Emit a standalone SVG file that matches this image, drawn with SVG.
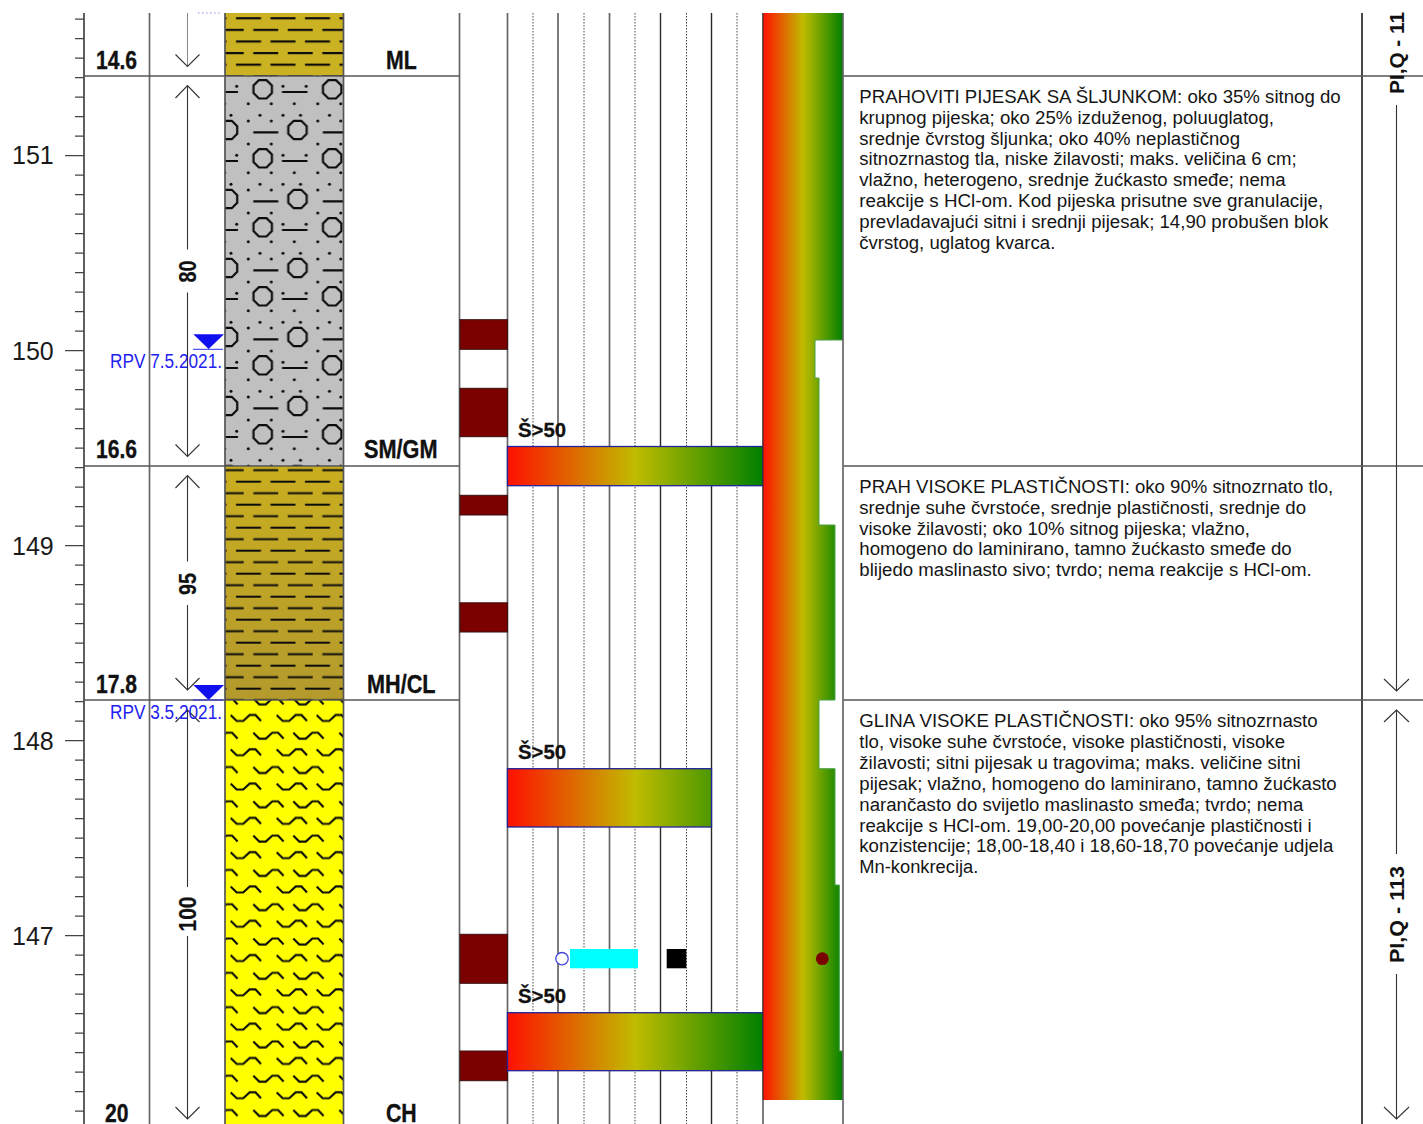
<svg xmlns="http://www.w3.org/2000/svg" width="1423" height="1124" viewBox="0 0 1423 1124">
<style>
text{font-family:"Liberation Sans",Arial,sans-serif}
.axis{font-size:25px;fill:#1a1a1a}
.b{font-size:25px;font-weight:bold;fill:#111;stroke:#111;stroke-width:.35}
.rot{font-size:23px;font-weight:bold;fill:#111;text-anchor:middle;stroke:#111;stroke-width:.2}
.side{font-size:21px;font-weight:bold;fill:#111;text-anchor:middle}
.s50{font-size:20px;font-weight:bold;fill:#111;stroke:#111;stroke-width:.3}
.rpv{font-size:20px;fill:#1e1ef0}
.d{font-size:18px;fill:#151515}
.g{fill:none;stroke:#666;stroke-width:1.7}
.dot{fill:none;stroke:#444;stroke-width:1;stroke-dasharray:1.5 1.5}
.arrow{fill:none;stroke:#333;stroke-width:1.1}
.sample{fill:#7b0000;stroke:#3a1010;stroke-width:1}
.bar{fill:url(#barGrad);stroke:#22229c;stroke-width:1.3}
.wl{fill:#1010ee}
.wll{stroke:#3030ee;stroke-width:1}
</style>
<defs>
<linearGradient id="barGrad" gradientUnits="userSpaceOnUse" x1="507.5" y1="0" x2="763" y2="0"><stop offset="0" stop-color="#ff1000"/><stop offset=".5" stop-color="#c0bc00"/><stop offset="1" stop-color="#008000"/></linearGradient>
<linearGradient id="colGrad" gradientUnits="userSpaceOnUse" x1="763" y1="0" x2="843" y2="0"><stop offset="0" stop-color="#ff1000"/><stop offset=".5" stop-color="#c0bc00"/><stop offset="1" stop-color="#008000"/></linearGradient>
<linearGradient id="mhGrad" x1="0" y1="0" x2="0" y2="1"><stop offset="0" stop-color="#c9ae20"/><stop offset="1" stop-color="#b49a2c"/></linearGradient>
<pattern id="siltA" patternUnits="userSpaceOnUse" x="0" y="0" width="34.5" height="23" patternTransform="translate(225,60.7) scale(1,1.0087)">
<path d="M11 4H34.5M0 4H1.5M28.3 15.5H34.5M0 15.5H18.7" fill="none" stroke="#0c0c0c" stroke-width="2.1"/>
</pattern>
<pattern id="siltB" href="#siltA" patternTransform="translate(225,477.7)"/>
<pattern id="gravel" patternUnits="userSpaceOnUse" x="0" y="0" width="69.5" height="69" patternTransform="translate(225,78)">
<g fill="none" stroke="#0c0c0c" stroke-width="2.2">
<path d="M33.900 2.100H41.500L46.900 7.500V15.100L41.500 20.500H33.900L28.500 15.100V7.500Z"/>
<path d="M-.8 42.800H6.800L12.200 48.200V55.800L6.800 61.200H-.8L-6.200 55.800V48.200Z"/>
<path d="M68.700 42.800H76.300L81.700 48.200V55.800L76.300 61.200H68.700L63.300 55.800V48.200Z"/>
<path d="M57 14H69.500M0 14H13M28.300 54.300H53.300"/>
</g>
<g fill="#0c0c0c">
<circle cx="11.700" cy="8.300" r="1.500"/><circle cx="58" cy="8.300" r="1.500"/>
<circle cx="23.300" cy="25.700" r="1.500"/><circle cx="46.300" cy="25.700" r="1.500"/><circle cx="69.300" cy="25.700" r="1.500"/><circle cx="-.2" cy="25.700" r="1.500"/>
<circle cx="6" cy="37.300" r="1.500"/><circle cx="35" cy="37.300" r="1.500"/><circle cx="58" cy="37.300" r="1.500"/>
<circle cx="23.300" cy="43" r="1.500"/><circle cx="46.300" cy="43" r="1.500"/>
<circle cx="23.300" cy="66" r="1.500"/><circle cx="46.300" cy="66" r="1.500"/>
</g>
</pattern>
<pattern id="clay" patternUnits="userSpaceOnUse" x="0" y="0" width="86" height="34.3" patternTransform="translate(225,695)">
<path d="M5.700 20l6 6h6.500l6.500-6h5.800l5.500 6M51.700 20l6 6h6.500l6.500-6h5.800l5.500 6M28.300 3.400l6 6h6.500l6.500-6h5.800l5.500 6M68.300 3.400l6 6h6.500l6.500-6h5.800l5.500 6M-17.700 3.400l6 6h6.500l6.500-6h5.800l5.500 6" fill="none" stroke="#0c0c0c" stroke-width="2.100"/>
</pattern>
</defs>
<rect width="1423" height="1124" fill="#fff"/>

<g id="grid">
<path class="dot" d="M533 13V1124M584 13V1124M635 13V1124M686.500 13V1124M737 13V1124"/>
<path class="g" d="M149.500 13V1124M459.500 13V1124M507.500 13V1124M558 13V1124M609.500 13V1124"/>
<path d="M660.500 13V1124M711.500 13V1124" fill="none" stroke="#2a2a2a" stroke-width="1.400"/>
<path class="g" d="M763 13V1124"/>
<path d="M1362 13V1124" fill="none" stroke="#1a1a1a" stroke-width="1.600"/>
</g>

<g id="ruler">
<path d="M84 13V1124" fill="none" stroke="#444" stroke-width="1.700"/>
<path d="M75 19.200H84M75 38.700H84M75 58.200H84M75 77.700H84M75 97.200H84M75 116.700H84M75 136.200H84M65 155.700H84M75 175.200H84M75 194.700H84M75 214.200H84M75 233.700H84M75 253.200H84M75 272.700H84M75 292.200H84M75 311.700H84M75 331.200H84M65 350.700H84M75 370.200H84M75 389.700H84M75 409.200H84M75 428.700H84M75 448.200H84M75 467.700H84M75 487.200H84M75 506.700H84M75 526.200H84M65 545.700H84M75 565.200H84M75 584.700H84M75 604.200H84M75 623.700H84M75 643.200H84M75 662.700H84M75 682.200H84M75 701.700H84M75 721.200H84M65 740.700H84M75 760.200H84M75 779.700H84M75 799.200H84M75 818.700H84M75 838.200H84M75 857.700H84M75 877.200H84M75 896.700H84M75 916.200H84M65 935.700H84M75 955.200H84M75 974.700H84M75 994.200H84M75 1013.700H84M75 1033.200H84M75 1052.700H84M75 1072.200H84M75 1091.700H84M75 1111.200H84" fill="none" stroke="#444" stroke-width="1.300"/>
<text class="axis" x="12" y="164">151</text>
<text class="axis" x="12" y="360">150</text>
<text class="axis" x="12" y="555">149</text>
<text class="axis" x="12" y="750">148</text>
<text class="axis" x="12" y="945">147</text>
</g>

<g id="layer-ml">
<rect x="225" y="13" width="118.500" height="63" fill="#cbb222"/>
<rect x="225" y="13" width="118.500" height="63" fill="url(#siltA)"/>
</g>
<g id="layer-smgm">
<rect x="225" y="76" width="118.500" height="390" fill="#c0c0c0"/>
<rect x="225" y="76" width="118.500" height="390" fill="url(#gravel)"/>
</g>
<g id="layer-mhcl">
<rect x="225" y="466" width="118.500" height="234" fill="url(#mhGrad)"/>
<rect x="225" y="466" width="118.500" height="234" fill="url(#siltB)"/>
</g>
<g id="layer-ch">
<rect x="225" y="700" width="118.500" height="424" fill="#ffff00"/>
<rect x="225" y="700" width="118.500" height="424" fill="url(#clay)"/>
</g>
<path class="g" d="M225 13V1124M343.500 13V1124" style="stroke:#555"/>

<g id="dividers">
<path class="g" d="M84 76H459.500M84 466H459.500M84 700H459.500M843 76H1423M843 466H1423M843 700H1423" style="stroke:#555"/>
</g>

<g id="depth-labels">
<text class="b" x="96" y="68.500" textLength="41" lengthAdjust="spacingAndGlyphs">14.6</text>
<text class="b" x="96" y="458.300" textLength="41" lengthAdjust="spacingAndGlyphs">16.6</text>
<text class="b" x="96" y="692.700" textLength="41" lengthAdjust="spacingAndGlyphs">17.8</text>
<text class="b" x="105" y="1122" textLength="23.500" lengthAdjust="spacingAndGlyphs">20</text>
<text class="b" x="386" y="68.500" textLength="30.700" lengthAdjust="spacingAndGlyphs">ML</text>
<text class="b" x="364" y="458.300" textLength="73.500" lengthAdjust="spacingAndGlyphs">SM/GM</text>
<text class="b" x="367" y="692.700" textLength="68.500" lengthAdjust="spacingAndGlyphs">MH/CL</text>
<text class="b" x="386" y="1122" textLength="30.700" lengthAdjust="spacingAndGlyphs">CH</text>
</g>

<g id="connectors">
<path d="M187.500 13V66" fill="none" stroke="#888"/>
<path class="arrow" d="M175.500 54.500L187.500 66.500L199.500 54.500"/>
<path class="arrow" d="M187.500 85.500V249.500M187.500 292.500V456.500M175.500 98L187.500 85.500L199.500 98M175.500 444.500L187.500 456.500L199.500 444.500"/>
<path class="arrow" d="M187.500 475.500V561.500M187.500 605V690M175.500 488L187.500 475.500L199.500 488M175.500 678L187.500 690L199.500 678"/>
<path class="arrow" d="M187.500 710V887M187.500 936V1119M175.500 722L187.500 710L199.500 722M175.500 1107L187.500 1119L199.500 1107"/>
<path class="arrow" d="M1396.500 105V691M1384 679L1396.500 691L1409 679M1396.500 710V854M1396.500 974V1119M1384 722L1396.500 710L1409 722M1384 1107L1396.500 1119L1409 1107"/>
</g>
<g id="thickness-labels">
<text class="rot" transform="translate(196,271.500) rotate(-90)" textLength="22" lengthAdjust="spacingAndGlyphs">80</text>
<text class="rot" transform="translate(196,584) rotate(-90)" textLength="22" lengthAdjust="spacingAndGlyphs">95</text>
<text class="rot" transform="translate(196,914) rotate(-90)" textLength="35" lengthAdjust="spacingAndGlyphs">100</text>
<text class="side" transform="translate(1403.500,53) rotate(-90)" textLength="82" lengthAdjust="spacingAndGlyphs">PI,Q - 11</text>
<text class="side" transform="translate(1403.500,914.500) rotate(-90)" textLength="97" lengthAdjust="spacingAndGlyphs">PI,Q - 113</text>
</g>

<g id="water-levels">
<path d="M198 13H220" fill="none" stroke="#8888ee" stroke-width="1" stroke-dasharray="1.500 2.500"/>
<path class="wl" d="M193.300 334.300H224L208.600 349Z"/>
<path class="wll" d="M193 349.300H223"/>
<text class="rpv" x="110" y="368.300" textLength="112" lengthAdjust="spacingAndGlyphs">RPV 7.5.2021.</text>
<path class="wl" d="M193.300 685H224L208.600 700Z"/>
<path class="wll" d="M193 700H223"/>
<text class="rpv" x="110" y="719.300" textLength="112" lengthAdjust="spacingAndGlyphs">RPV 3.5.2021.</text>
</g>

<g id="samples">
<rect class="sample" x="460" y="319.700" width="47.500" height="29.600"/>
<rect class="sample" x="460" y="388.300" width="47.500" height="48.400"/>
<rect class="sample" x="460" y="495.300" width="47.500" height="19.700"/>
<rect class="sample" x="460" y="602.800" width="47.500" height="29.200"/>
<rect class="sample" x="460" y="934.300" width="47.500" height="49"/>
<rect class="sample" x="460" y="1051" width="47.500" height="29.700"/>
</g>

<g id="spt-bars">
<rect class="bar" x="507.500" y="446.500" width="255.500" height="39.200"/>
<rect class="bar" x="507.500" y="768.700" width="204" height="58.300"/>
<rect class="bar" x="507.500" y="1012.700" width="255.500" height="58"/>
<text class="s50" x="518" y="437" textLength="48" lengthAdjust="spacingAndGlyphs">Š&gt;50</text>
<text class="s50" x="518" y="758.700" textLength="48" lengthAdjust="spacingAndGlyphs">Š&gt;50</text>
<text class="s50" x="518" y="1002.700" textLength="48" lengthAdjust="spacingAndGlyphs">Š&gt;50</text>
</g>

<g id="markers">
<rect x="570" y="949" width="68" height="19.300" fill="#00ffff"/>
<circle cx="562" cy="958.700" r="6.200" fill="#fff" stroke="#4444dd" stroke-width="1.300"/>
<rect x="666.700" y="949" width="19.600" height="19.300" fill="#000"/>
</g>

<g id="moisture-column">
<path d="M763 13H843V340H815V378H819V525H835V700H819V768.700H835V885H839.300V1051H843V1100H763Z" fill="url(#colGrad)"/>
<path d="M843 340H815V378H819V525H835V700H819V768.700H835V885H839.300V1051H843" fill="none" stroke="#48a048" stroke-width="1"/>
<path d="M763 13V1100" fill="none" stroke="#333" stroke-width="1"/>
<path class="g" d="M843 13V1124"/>
<circle cx="822.300" cy="958.700" r="6.400" fill="#7b0000"/>
</g>

<g id="desc-1">
<text class="d" x="859.300" y="103" textLength="481.400" lengthAdjust="spacingAndGlyphs">PRAHOVITI PIJESAK SA ŠLJUNKOM: oko 35% sitnog do</text>
<text class="d" x="859.300" y="123.800" textLength="414.700" lengthAdjust="spacingAndGlyphs">krupnog pijeska; oko 25% izduženog, poluuglatog,</text>
<text class="d" x="859.300" y="144.600" textLength="380.700" lengthAdjust="spacingAndGlyphs">srednje čvrstog šljunka; oko 40% neplastičnog</text>
<text class="d" x="859.300" y="165.400" textLength="437.400" lengthAdjust="spacingAndGlyphs">sitnozrnastog tla, niske žilavosti; maks. veličina 6 cm;</text>
<text class="d" x="859.300" y="186.200" textLength="426.400" lengthAdjust="spacingAndGlyphs">vlažno, heterogeno, srednje žućkasto smeđe; nema</text>
<text class="d" x="859.300" y="207" textLength="464" lengthAdjust="spacingAndGlyphs">reakcije s HCl-om. Kod pijeska prisutne sve granulacije,</text>
<text class="d" x="859.300" y="227.800" textLength="469" lengthAdjust="spacingAndGlyphs">prevladavajući sitni i srednji pijesak; 14,90 probušen blok</text>
<text class="d" x="859.300" y="248.600" textLength="196" lengthAdjust="spacingAndGlyphs">čvrstog, uglatog kvarca.</text>
</g>
<g id="desc-2">
<text class="d" x="859.300" y="492.900" textLength="474" lengthAdjust="spacingAndGlyphs">PRAH VISOKE PLASTIČNOSTI: oko 90% sitnozrnato tlo,</text>
<text class="d" x="859.300" y="513.700" textLength="446.700" lengthAdjust="spacingAndGlyphs">srednje suhe čvrstoće, srednje plastičnosti, srednje do</text>
<text class="d" x="859.300" y="534.500" textLength="390.700" lengthAdjust="spacingAndGlyphs">visoke žilavosti; oko 10% sitnog pijeska; vlažno,</text>
<text class="d" x="859.300" y="555.300" textLength="432.400" lengthAdjust="spacingAndGlyphs">homogeno do laminirano, tamno žućkasto smeđe do</text>
<text class="d" x="859.300" y="576.100" textLength="452.400" lengthAdjust="spacingAndGlyphs">blijedo maslinasto sivo; tvrdo; nema reakcije s HCl-om.</text>
</g>
<g id="desc-3">
<text class="d" x="859.300" y="727" textLength="458.400" lengthAdjust="spacingAndGlyphs">GLINA VISOKE PLASTIČNOSTI: oko 95% sitnozrnasto</text>
<text class="d" x="859.300" y="747.900" textLength="425.700" lengthAdjust="spacingAndGlyphs">tlo, visoke suhe čvrstoće, visoke plastičnosti, visoke</text>
<text class="d" x="859.300" y="768.800" textLength="441.400" lengthAdjust="spacingAndGlyphs">žilavosti; sitni pijesak u tragovima; maks. veličine sitni</text>
<text class="d" x="859.300" y="789.700" textLength="477.400" lengthAdjust="spacingAndGlyphs">pijesak; vlažno, homogeno do laminirano, tamno žućkasto</text>
<text class="d" x="859.300" y="810.600" textLength="444" lengthAdjust="spacingAndGlyphs">narančasto do svijetlo maslinasto smeđa; tvrdo; nema</text>
<text class="d" x="859.300" y="831.500" textLength="452.400" lengthAdjust="spacingAndGlyphs">reakcije s HCl-om. 19,00-20,00 povećanje plastičnosti i</text>
<text class="d" x="859.300" y="852.400" textLength="474" lengthAdjust="spacingAndGlyphs">konzistencije; 18,00-18,40 i 18,60-18,70 povećanje udjela</text>
<text class="d" x="859.300" y="873.300" textLength="119" lengthAdjust="spacingAndGlyphs">Mn-konkrecija.</text>
</g>
</svg>
